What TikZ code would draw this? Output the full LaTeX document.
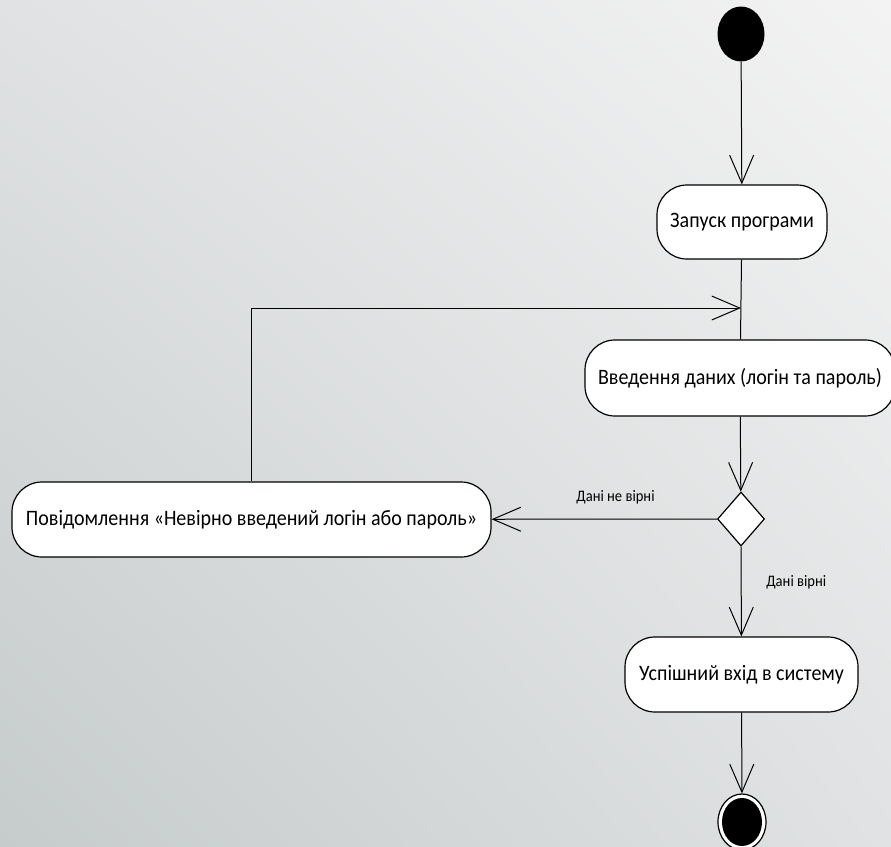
\documentclass[tikz,border=0pt]{standalone}
\usepackage{fontspec}
\setmainfont[FakeStretch=0.91]{Carlito}
\usetikzlibrary{arrows.meta}
\usetikzlibrary{shapes.geometric}
\usetikzlibrary{shadings}

\definecolor{bgdark}{RGB}{198,203,204}
\definecolor{bgmid}{RGB}{224,226,227}
\definecolor{bglight}{RGB}{243,243,243}

\begin{document}
\begin{tikzpicture}[x=0.5pt, y=-0.5pt,
    action/.style={draw, fill=white, rounded corners=15pt, line width=0.6pt, inner sep=0pt, font=\fontsize{11}{13}\selectfont},
    flow/.style={-{Straight Barb[length=14pt, width=12pt]}, line width=0.5pt},
    guard/.style={font=\fontsize{8}{9}\selectfont}]
    \shade[upper left=bgmid, upper right=bglight, lower left=bgdark, lower right=bgmid] (0, 0) rectangle (891, 847);
    \useasboundingbox (0, 0) rectangle (891, 847);

    \node[ellipse, fill=black, minimum width=23.5pt, minimum height=27.5pt, inner sep=0pt] (start) at (741, 34) {};
    \node[action, minimum width=85pt, minimum height=37pt] (launch) at (742, 222) {Запуск програми};
    \coordinate (merge) at (741, 308);
    \node[action, minimum width=155pt, minimum height=38pt] (input) at (740, 378) {Введення даних (логін та пароль)};
    \node[diamond, draw, fill=white, line width=0.6pt, minimum width=23.5pt, minimum height=27pt, inner sep=0pt] (check) at (741, 519) {};
    \node[action, minimum width=239.5pt, minimum height=37.5pt] (error) at (251.5, 519.5) {Повідомлення «Невірно введений логін або пароль»};
    \node[action, minimum width=116.5pt, minimum height=37.5pt] (success) at (741.5, 674.5) {Успішний вхід в систему};
    \node[ellipse, draw, fill=white, line width=0.6pt, minimum width=24pt, minimum height=28pt, inner sep=0pt] (final) at (742, 822) {};
    \node[ellipse, fill=black, minimum width=20pt, minimum height=24pt, inner sep=0pt] (finalcore) at (final) {};

    \draw[flow] (start) -- (launch);
    \draw[line width=0.5pt] (launch) -- (input);
    \draw[flow] (error.north) |- (merge);
    \draw[flow] (input) -- (check);
    \draw[flow] (check) -- node[guard, above=4pt, pos=0.45] {Дані не вірні} (error);
    \draw[flow] (check) -- node[guard, right=9pt, pos=0.4] {Дані вірні} (success);
    \draw[flow] (success) -- (final);
\end{tikzpicture}
\end{document}
